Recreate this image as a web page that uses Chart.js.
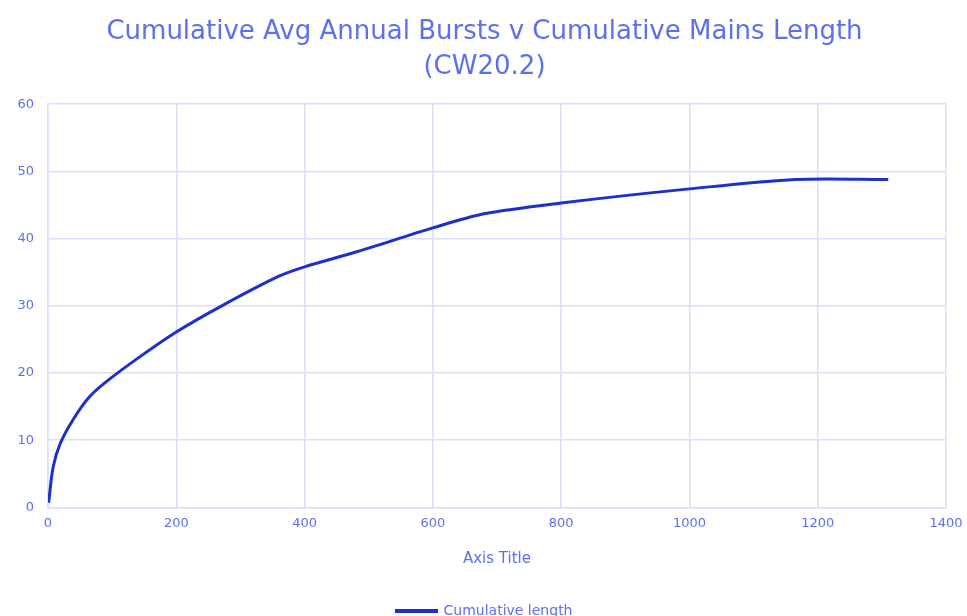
<!DOCTYPE html>
<html>
<head>
<meta charset="utf-8">
<script src="https://cdn.jsdelivr.net/npm/chart.js@4.4.0/dist/chart.umd.min.js"></script>
<style>
  html, body { margin: 0; padding: 0; background: #fff; overflow: hidden; }
  #wrap { width: 967px; height: 628px; }
</style>
</head>
<body>
<div id="wrap"><canvas id="myChart" width="967" height="628"></canvas></div>
<script>
// 누적 연장 (x) 과 누적 파열 수 (y)
const mainsLength = [1, 8, 19, 40, 65, 92, 143, 200, 273, 360, 400, 480, 600, 680, 800, 1000, 1165, 1310];
const avgBursts = [0.7, 6, 9.5, 13.2, 16.5, 18.8, 22.4, 26.1, 30.1, 34.4, 35.8, 38.0, 41.6, 43.7, 45.3, 47.4, 48.8, 48.8];
const xTicks = [0, 200, 400, 600, 800, 1000, 1200, 1400];
const yTicks = [0, 10, 20, 30, 40, 50, 60];

const txtColor = "#5b70ee";
const gridColor = "#d9defb";
const font = "'DejaVu Sans', sans-serif";

const points = mainsLength.map((x, i) => ({ x: x, y: avgBursts[i] }));

const ctx = document.getElementById("myChart").getContext("2d");
const myChart = new Chart(ctx, {
  type: "line",
  data: {
    datasets: [
      {
        label: "Cumulative length",
        data: points,
        borderColor: "#1b30cc",
        backgroundColor: "#1b30cc",
        borderWidth: 3,
        pointRadius: 0,
        fill: false,
        tension: 0.3,
      },
    ],
  },
  options: {
    responsive: false,
    animation: false,
    layout: { padding: { left: 4, right: 2, top: 4, bottom: 0 } },
    plugins: {
      title: {
        display: true,
        text: ["Cumulative Avg Annual Bursts v Cumulative Mains Length", "(CW20.2)"],
        color: txtColor,
        font: { family: font, size: 26, weight: "normal", lineHeight: 1.35 },
        padding: { top: 11, bottom: 19 },
      },
      legend: {
        position: "bottom",
        labels: {
          color: txtColor,
          font: { family: font, size: 14 },
          boxWidth: 40,
          boxHeight: 1,
        },
      },
      tooltip: { enabled: false },
    },
    scales: {
      x: {
        type: "linear",
        min: 0,
        max: 1400,
        afterBuildTicks: (axis) => { axis.ticks = xTicks.map((v) => ({ value: v })); },
        afterFit: (axis) => { axis.paddingRight = 21; axis.paddingLeft = 0; },
        grid: { color: gridColor, lineWidth: 1.5, drawTicks: false },
        border: { color: gridColor, width: 1.5 },
        ticks: { color: txtColor, font: { family: font, size: 13 }, padding: 8, callback: (v) => String(v) },
        title: {
          display: true,
          text: "Axis Title",
          color: txtColor,
          font: { family: font, size: 15 },
          padding: { top: 11, bottom: 26 },
        },
      },
      y: {
        min: 0,
        max: 60,
        afterBuildTicks: (axis) => { axis.ticks = yTicks.map((v) => ({ value: v })); },
        afterFit: (axis) => { axis.width = 44; },
        grid: { color: gridColor, lineWidth: 1.5, drawTicks: false },
        border: { color: gridColor, width: 1.5 },
        ticks: { color: txtColor, font: { family: font, size: 13 }, padding: 14, callback: (v) => String(v) },
      },
    },
  },
});
</script>
</body>
</html>
